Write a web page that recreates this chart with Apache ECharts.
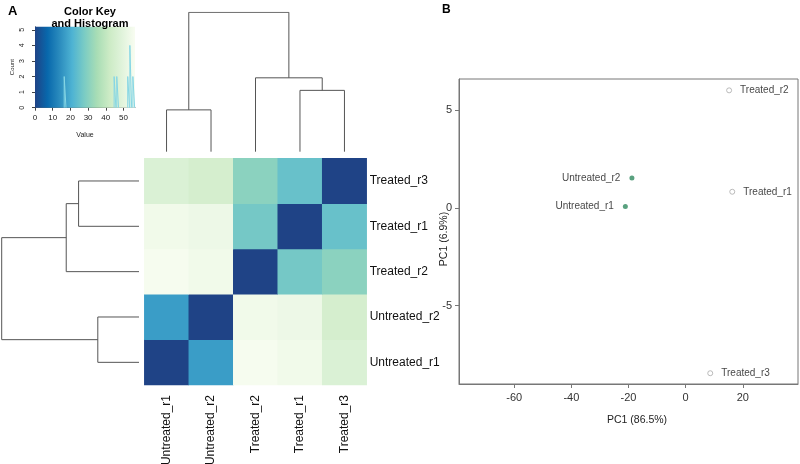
<!DOCTYPE html>
<html><head><meta charset="utf-8">
<script src="https://cdn.jsdelivr.net/npm/echarts@6/dist/echarts.min.js"></script>
<style>html,body{margin:0;padding:0;background:#fff}#c{width:800px;height:464px}</style>
</head><body><div id="c"></div>
<script>
// ---------- data ----------
const samples = ['Untreated_r1', 'Untreated_r2', 'Treated_r2', 'Treated_r1', 'Treated_r3'];
// sample distance matrix rows (order = samples)
const distU1 = [0, 17, 55.8, 54.1, 47];
const distU2 = [17, 0, 54.1, 52.9, 45];
const distT2 = [55.8, 54.1, 0, 27, 30.5];
const distT1 = [54.1, 52.9, 27, 0, 25];
const distT3 = [47, 45, 30.5, 25, 0];
// hclust-style merges (negative = leaf position, positive = earlier merge)
const mergeA = [-1, -4, -3, 1];
const mergeB = [-2, -5, 2, 3];
const mergeHeight = [30, 44, 53, 100];
// colour key / histogram
const keyTicks = [0, 10, 20, 30, 40, 50];
const countTicks = [0, 1, 2, 3, 4, 5];
const histValues = [17, 45.2, 46.7, 52.9, 54.1, 55.8];
const histCounts = [2, 2, 2, 2, 4, 2];
// PCA
const untreatedNames = ['Untreated_r2', 'Untreated_r1'];
const untreatedPC1 = [-18.8, -21.1];
const untreatedPC2 = [1.52, 0.07];
const treatedNames = ['Treated_r2', 'Treated_r1', 'Treated_r3'];
const treatedPC1 = [15.2, 16.3, 8.6];
const treatedPC2 = [6.0, 0.82, -8.45];
const pcXTicks = [-60, -40, -20, 0, 20];
const pcYTicks = [-5, 0, 5];

// ---------- styling ----------
const FONT = 'Liberation Sans, Arial, Helvetica, sans-serif';
const palette = ['#1f4386', '#0868ac', '#2b8cbe', '#4eb3d3', '#7bccc4', '#a8ddb5', '#ccebc5', '#e0f3db', '#f7fcf0'];
const DMAX = 56;

const distRows = [distU1, distU2, distT2, distT1, distT3];
const heatData = [];
distRows.forEach((row, yi) => row.forEach((v, xi) => heatData.push([xi, yi, v])));

// dendrogram segments
function dendroSegments() {
  const pos = [], segs = [];
  const cPos = c => c < 0 ? (-c - 1) : pos[c - 1];
  const cH = c => c < 0 ? 0 : mergeHeight[c - 1];
  mergeA.forEach((a, i) => {
    const b = mergeB[i], h = mergeHeight[i];
    const pa = cPos(a), pb = cPos(b);
    pos.push((pa + pb) / 2);
    segs.push([[pa, cH(a)], [pa, h], [pb, h], [pb, cH(b)]]);
  });
  return segs;
}
const segs = dendroSegments();
const dendroLine = { color: '#555', width: 1 };

const series = [];
series.push({
  type: 'heatmap', xAxisIndex: 0, yAxisIndex: 0, data: heatData,
  itemStyle: { borderWidth: 0 }, emphasis: { disabled: true }
});
segs.forEach(s => {
  series.push({ type: 'line', xAxisIndex: 1, yAxisIndex: 1, data: s, symbol: 'none',
    lineStyle: dendroLine, silent: true });
  series.push({ type: 'line', xAxisIndex: 2, yAxisIndex: 2, data: s.map(p => [p[1], p[0]]), symbol: 'none',
    lineStyle: dendroLine, silent: true });
});
// colour key gradient
series.push({
  type: 'custom', xAxisIndex: 3, yAxisIndex: 3, silent: true, data: [[0, 56.5]],
  renderItem: (params, api) => {
    const p0 = api.coord([api.value(0), 5.2]);
    const p1 = api.coord([api.value(1), 0]);
    const stops = palette.map((c, i) => ({ offset: (i / (palette.length - 1)) * DMAX / 56.5, color: c }));
    stops.push({ offset: 1, color: palette[palette.length - 1] });
    return { type: 'rect', shape: { x: p0[0], y: p0[1], width: p1[0] - p0[0], height: p1[1] - p0[1] },
      style: { fill: new echarts.graphic.LinearGradient(0, 0, 1, 0, stops) } };
  }
});
// histogram
histValues.forEach((v, i) => {
  const c = histCounts[i];
  series.push({ type: 'line', xAxisIndex: 3, yAxisIndex: 3, symbol: 'none', silent: true,
    data: [[v - 0.5, 0], [v - 0.5, c], [v + 0.5, c], [v + 0.5, 0]],
    lineStyle: { color: '#86d6e4', width: 1 } });
});
// PCA
series.push({
  type: 'scatter', xAxisIndex: 4, yAxisIndex: 4, symbolSize: 5,
  data: untreatedNames.map((n, i) => ({ name: n, value: [untreatedPC1[i], untreatedPC2[i]] })),
  itemStyle: { color: '#2f8a5f' },
  label: { show: true, position: 'left', distance: 9, formatter: '{b}', fontSize: 10, color: '#111', fontFamily: FONT }
});
series.push({
  type: 'scatter', xAxisIndex: 4, yAxisIndex: 4, symbolSize: 5, symbol: 'circle',
  data: treatedNames.map((n, i) => ({ name: n, value: [treatedPC1[i], treatedPC2[i]] })),
  itemStyle: { color: 'rgba(255,255,255,0)', borderColor: '#aaa', borderWidth: 1 },
  label: { show: true, position: 'right', distance: 8, formatter: '{b}', fontSize: 10, color: '#111', fontFamily: FONT }
});

const hidden = { show: false };
const option = {
  animation: false,
  textStyle: { fontFamily: FONT },
  title: [
    { text: 'A', left: 3, top: 0, textStyle: { fontSize: 13, fontWeight: 'bold', color: '#000', fontFamily: FONT } },
    { text: 'B', left: 437, top: -1, textStyle: { fontSize: 12, fontWeight: 'bold', color: '#000', fontFamily: FONT } },
    { text: 'Color Key\nand Histogram', left: 85, top: 1, textAlign: 'center',
      textStyle: { fontSize: 11, fontWeight: 'bold', color: '#000', lineHeight: 12, fontFamily: FONT } }
  ],
  visualMap: { show: false, type: 'continuous', min: 0, max: DMAX, seriesIndex: 0, inRange: { color: palette } },
  grid: [
    { left: 144.3, top: 158.3, width: 222.4, height: 226.7, outerBoundsMode: 'none' },
    { left: 144.3, top: 12.3, width: 222.4, height: 139.4, outerBoundsMode: 'none' },
    { left: 1.7, top: 158.3, width: 137.3, height: 226.7, outerBoundsMode: 'none' },
    { left: 35, top: 26.7, width: 100, height: 81, outerBoundsMode: 'none' },
    { left: 459, top: 79, width: 339, height: 305, show: true, borderColor: '#777', borderWidth: 1, outerBoundsMode: 'none' }
  ],
  xAxis: [
    { gridIndex: 0, type: 'category', data: samples, position: 'bottom',
      axisLine: hidden, axisTick: hidden, splitLine: hidden,
      axisLabel: { rotate: 90, fontSize: 12, color: '#111', margin: 10, fontFamily: FONT } },
    { gridIndex: 1, type: 'value', min: -0.5, max: 4.5, show: false },
    { gridIndex: 2, type: 'value', min: 0, max: 100, inverse: true, show: false },
    { gridIndex: 3, type: 'value', min: 0, max: 56.5, splitLine: hidden,
      name: 'Value', nameLocation: 'middle', nameGap: 24, nameMoveOverlap: false, nameTextStyle: { fontSize: 7, color: '#222' },
      axisLine: { onZero: false, lineStyle: { color: '#444', width: 0.8 } },
      axisTick: { customValues: keyTicks, length: 3, lineStyle: { color: '#444' } },
      axisLabel: { customValues: keyTicks, fontSize: 8, color: '#222', margin: 6 } },
    { gridIndex: 4, type: 'value', min: -79.3, max: 39.3, splitLine: hidden,
      name: 'PC1 (86.5%)', nameLocation: 'middle', nameGap: 31, nameMoveOverlap: false,
      nameTextStyle: { fontSize: 10.5, color: '#222', padding: [0, 0, 0, 17] },
      axisLine: { onZero: false, lineStyle: { color: '#777' } },
      axisTick: { customValues: pcXTicks, length: 4, lineStyle: { color: '#777' } },
      axisLabel: { customValues: pcXTicks, fontSize: 11, color: '#333', margin: 8 } }
  ],
  yAxis: [
    { gridIndex: 0, type: 'category', data: samples, position: 'right',
      axisLine: hidden, axisTick: hidden, splitLine: hidden,
      axisLabel: { fontSize: 12, color: '#111', margin: 3, fontFamily: FONT } },
    { gridIndex: 1, type: 'value', min: 0, max: 100, show: false },
    { gridIndex: 2, type: 'value', min: -0.5, max: 4.5, show: false },
    { gridIndex: 3, type: 'value', min: 0, max: 5.2, splitLine: hidden,
      name: 'Count', nameLocation: 'middle', nameGap: 20, nameRotate: 90, nameMoveOverlap: false, nameTextStyle: { fontSize: 6, color: '#222' },
      axisLine: { show: true, onZero: false, lineStyle: { color: '#444', width: 0.8 } },
      axisTick: { show: true, customValues: countTicks, length: 3, lineStyle: { color: '#444' } },
      axisLabel: { customValues: countTicks, rotate: 90, fontSize: 7, color: '#222', margin: 9 } },
    { gridIndex: 4, type: 'value', min: -9.0, max: 6.58, splitLine: hidden,
      name: 'PC1 (6.9%)', nameLocation: 'middle', nameGap: 9, nameRotate: 90, nameMoveOverlap: false,
      nameTextStyle: { fontSize: 10.5, color: '#222', padding: [0, 15, 0, 0] },
      axisLine: { show: true, onZero: false, lineStyle: { color: '#777' } },
      axisTick: { show: true, customValues: pcYTicks, length: 4, lineStyle: { color: '#777' } },
      axisLabel: { customValues: pcYTicks, fontSize: 11, color: '#333', margin: 7 } }
  ],
  series: series
};
const chart = echarts.init(document.getElementById('c'), null, { renderer: 'canvas' });
chart.setOption(option);
</script>
</body></html>
